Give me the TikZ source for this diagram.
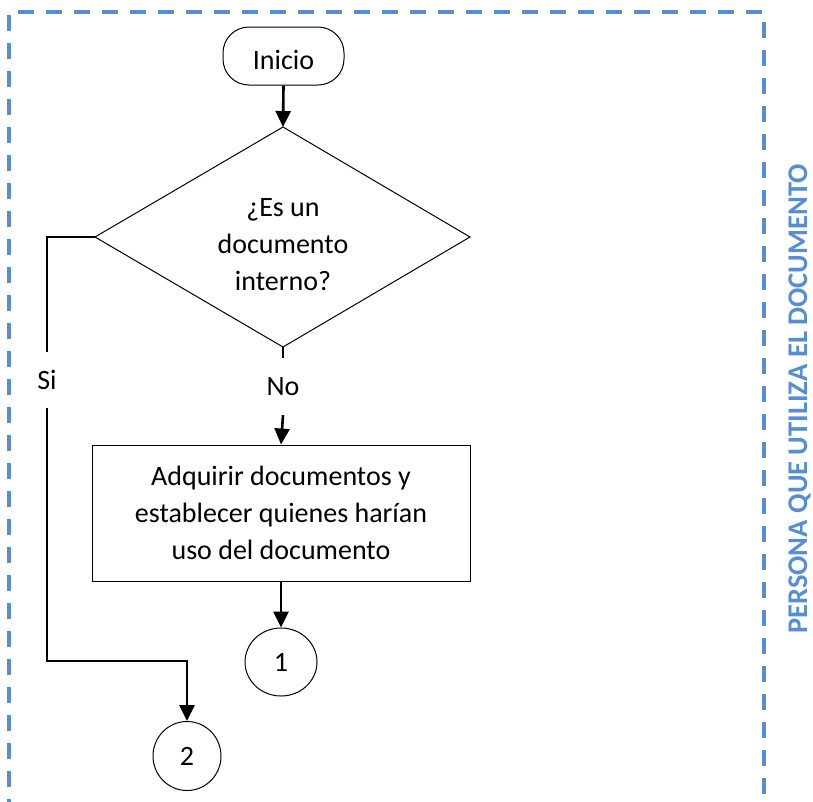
\documentclass[tikz,border=0pt]{standalone}
\usepackage{fontspec}
\setmainfont{Carlito}
\usetikzlibrary{arrows.meta,shapes.geometric}
\definecolor{laneblue}{RGB}{85,142,213}
\tikzset{
  lbl/.style={font=\fontsize{28}{37}\selectfont, align=center, text=black},
  box/.style={draw=black, line width=1pt, lbl},
  conn/.style={draw=black, line width=2.6pt},
  arrow/.style={conn, -{Triangle[length=16pt,width=15pt]}},
  conncircle/.style={box, ellipse, inner sep=0pt}
}
\begin{document}
\begin{tikzpicture}[x=1pt,y=-1pt]
  \useasboundingbox (0,0) rectangle (813,801);
  % swimlane border (open at the bottom)
  \draw[laneblue, line width=3.3pt, dash pattern=on 16pt off 12pt]
    (9,815) -- (9,12) -- (764,12) -- (764,815);
  \node[rotate=90, inner sep=0pt, text=laneblue,
        font=\fontsize{28.5}{32}\selectfont\bfseries] (lane) at (799.5,399)
        {PERSONA QUE UTILIZA EL DOCUMENTO};

  % start terminal
  \node[box, rounded corners=26pt, minimum width=121pt, minimum height=58pt,
        inner sep=0pt, text height=27pt] (inicio) at (283.5,56) {Inicio};

  % decision
  \coordinate (dt) at (283,127);
  \coordinate (dl) at (95,237);
  \coordinate (dr) at (470,237);
  \coordinate (db) at (283,347);
  \draw[line width=1pt] (dt) -- (dr) -- (db) -- (dl) -- cycle;
  \node[lbl, inner sep=0pt] (q) at (283,245) {¿Es un\\documento\\interno?};

  % process
  \node[box, minimum width=378pt, minimum height=136pt, inner sep=0pt]
    (proc) at (281,513) {Adquirir documentos y\\establecer quienes harían\\uso del documento};

  % connectors
  \node[conncircle, minimum width=72pt, minimum height=68pt] (c1) at (281,662) {1};
  \node[conncircle, minimum width=68pt, minimum height=69pt] (c2) at (187,756) {2};

  \node[lbl, inner sep=0pt, minimum height=57pt] (no) at (283,386.5) {No};
  \node[lbl, inner sep=0pt, minimum height=56pt] (si) at (47,380) {Si};
  \coordinate (turn) at (187,661);

  \draw[arrow] (inicio.south) -- (dt);
  \draw[conn] (db) -- (no.north);
  \draw[arrow] (no.south) -- (proc.north);
  \draw[arrow] (proc.south) -- (c1.north);
  \draw[conn] (dl) -| (si.north);
  \draw[arrow] (si.south) |- (turn) -- (c2.north);
\end{tikzpicture}
\end{document}
